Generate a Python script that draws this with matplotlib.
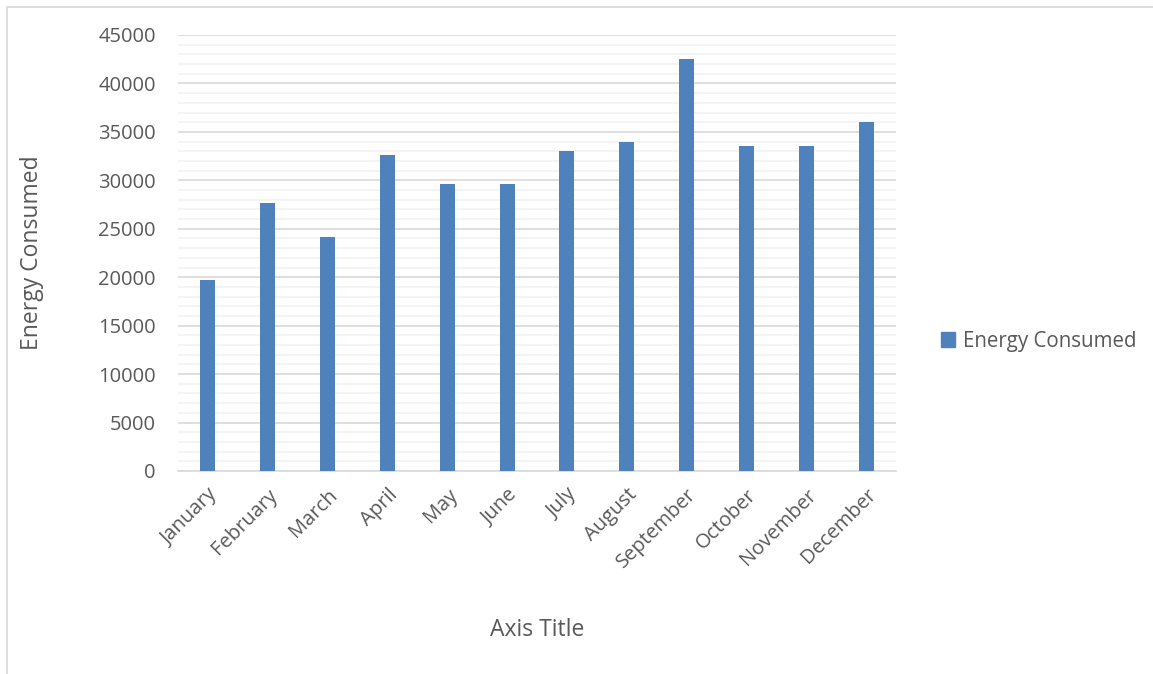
import matplotlib.pyplot as plt
from matplotlib.patches import Rectangle, Patch
from matplotlib.ticker import MultipleLocator

months = ["January", "February", "March", "April", "May", "June", "July",
          "August", "September", "October", "November", "December"]
energy = [19750, 27650, 24200, 32600, 29650, 29650, 33000,
          34000, 42500, 33500, 33500, 36000]

bar_color = "#4f81bd"
text_color = "#595959"
plt.rcParams['font.family'] = ['Open Sans', 'DejaVu Sans']

fig = plt.figure(figsize=(11.53, 6.74), dpi=100)
ax = fig.add_axes([178 / 1153, 1 - 471 / 674, (896 - 178) / 1153, (471 - 35) / 674])

x = range(len(months))
ax.bar(x, energy, width=0.25, color=bar_color, zorder=3, label="Energy Consumed")

ax.set_xlim(-0.5, len(months) - 0.5)
ax.set_ylim(0, 45000)
ax.yaxis.set_major_locator(MultipleLocator(5000))
ax.yaxis.set_minor_locator(MultipleLocator(1000))
ax.grid(which="major", axis="y", color="#d9d9d9", linewidth=1.2, zorder=0)
ax.grid(which="minor", axis="y", color="#f2f2f2", linewidth=1.2, zorder=0)

for s in ["top", "right", "left"]:
    ax.spines[s].set_visible(False)
ax.spines["bottom"].set_color("#d9d9d9")
ax.spines["bottom"].set_linewidth(1.2)
ax.tick_params(which="both", length=0)
ax.tick_params(axis="y", labelsize=14.5, labelcolor=text_color, pad=16)
ax.set_xticks(list(x))
ax.set_xticklabels(months, rotation=45, ha="right", rotation_mode="anchor",
                   fontsize=14.5, color=text_color)
ax.tick_params(axis="x", pad=10)

fig.text(32 / 1153, 1 - 253 / 674, "Energy Consumed", rotation=90, fontsize=16.5,
         color=text_color, ha="center", va="center")
fig.text(537 / 1153, 1 - 630 / 674, "Axis Title", fontsize=16.5,
         color=text_color, ha="center", va="center")

handle = Patch(color=bar_color, label="Energy Consumed")
fig.legend(handles=[handle], loc="center left", bbox_to_anchor=(922 / 1153, 1 - 341 / 674),
           frameon=False, fontsize=14.8, labelcolor=text_color,
           handlelength=0.7, handleheight=0.7, handletextpad=0.4)

fig.patches.append(Rectangle((7 / 1153, -0.01), 1.02, 1 - 7 / 674 + 0.01,
                             transform=fig.transFigure, fill=False,
                             edgecolor="#d9d9d9", linewidth=1.2))

fig.savefig("out.png", dpi=100)
